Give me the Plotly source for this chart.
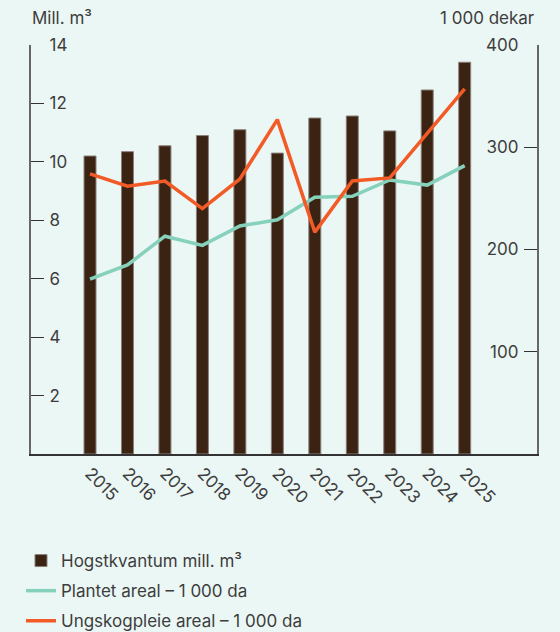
import plotly.graph_objects as go

years = [2015, 2016, 2017, 2018, 2019, 2020, 2021, 2022, 2023, 2024, 2025]
hogst = [10.2, 10.35, 10.55, 10.9, 11.1, 10.3, 11.5, 11.57, 11.06, 12.46, 13.41]
plantet = [171, 185, 213, 204, 223, 229, 251, 252, 268, 263, 282]
ungskog = [274, 262, 267, 240, 269, 327, 217, 267, 270, 313, 357]

left_ticks = [2, 4, 6, 8, 10, 12, 14]
right_ticks = [100, 200, 300, 400]

BG = "#EBF7F5"
TXT = "#3d3d3d"
FONT = "Inter"
W, H = 560, 632
PAD = "\u2009\u2009"

fig = go.Figure()
fig.add_trace(go.Bar(
    x=years, y=hogst, name="Hogstkvantum mill. m³", legendgroup="a",
    width=0.32, marker=dict(color="#3B2314", line=dict(color="#8c8078", width=1)),
))
fig.add_trace(go.Scatter(
    x=years, y=plantet, name="Plantet areal – 1 000 da", yaxis="y2", legendgroup="b",
    mode="lines", line=dict(color="#86D1BC", width=3.5),
))
fig.add_trace(go.Scatter(
    x=years, y=ungskog, name="Ungskogpleie areal – 1 000 da", yaxis="y2", legendgroup="c",
    mode="lines", line=dict(color="#F25A26", width=3.5),
))

ydom = [(H - 454) / H, (H - 45) / H]
xdom = [31 / W, 537 / W]

axis_common = dict(
    showgrid=False, zeroline=False, showline=True, linecolor="#666666", linewidth=1.5,
    ticks="inside", ticklen=13, tickcolor="#333333", tickwidth=1.2,
    ticklabelposition="inside", ticklabeloverflow="allow",
    tickfont=dict(size=17, color=TXT), automargin=False, domain=ydom,
)

fig.update_layout(
    width=W, height=H,
    margin=dict(l=0, r=0, t=0, b=0, autoexpand=False),
    paper_bgcolor=BG, plot_bgcolor=BG,
    font=dict(family=FONT, size=17, color=TXT),
    showlegend=True,
    legend=dict(
        orientation="v", x=21 / W, xanchor="left", y=(H - 543) / H, yanchor="top",
        font=dict(size=17, color=TXT), bgcolor="rgba(0,0,0,0)", tracegroupgap=5,
        itemwidth=30,
    ),
    xaxis=dict(
        domain=xdom,
        range=[2015 - 1.575, 2025 + 1.93], tickvals=years, ticktext=[str(y) for y in years],
        tickangle=45, showgrid=False, zeroline=False, showline=True, automargin=False,
        linecolor="#333333", linewidth=1.5, ticks="", ticklabelstandoff=1,
        tickfont=dict(size=17, color=TXT),
    ),
    yaxis=dict(range=[0, 14], tickvals=left_ticks,
               ticktext=[PAD + str(v) for v in left_ticks], **axis_common),
    yaxis2=dict(range=[0, 400], tickvals=right_ticks, overlaying="y", side="right",
                anchor="x", ticktext=[str(v) + PAD for v in right_ticks], **axis_common),
    annotations=[
        dict(text="Mill. m³", xref="paper", yref="paper", x=30 / W, y=(H - 18) / H,
             xanchor="left", yanchor="middle", showarrow=False,
             font=dict(size=17, color=TXT)),
        dict(text="1 000 dekar", xref="paper", yref="paper", x=537 / W, y=(H - 18) / H,
             xanchor="right", yanchor="middle", showarrow=False,
             font=dict(size=17, color=TXT)),
    ],
)

fig.write_html("out.html", config={"displayModeBar": False},
               post_script="document.body.style.margin='0';")
